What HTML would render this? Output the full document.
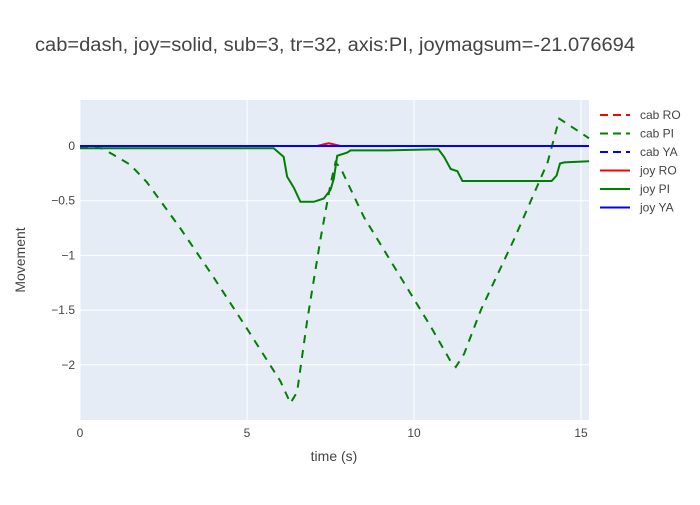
<!DOCTYPE html>
<html><head><meta charset="utf-8"><style>
body{margin:0;background:#fff;font-family:"Liberation Sans",sans-serif}
</style></head><body>
<svg id="c" width="700" height="500" xmlns="http://www.w3.org/2000/svg">
<rect x="0" y="0" width="700" height="500" fill="#fff"/>
<text x="35" y="51" font-size="19" fill="#444" textLength="600" lengthAdjust="spacingAndGlyphs">cab=dash, joy=solid, sub=3, tr=32, axis:PI, joymagsum=-21.076694</text>
<rect x="80" y="100" width="509" height="320" fill="#e5ecf6"/>
<g id="grid"></g><g id="series"></g><g id="ticks"></g>
<text x="334" y="461" font-size="14" fill="#444" text-anchor="middle">time (s)</text>
<text x="25" y="260" font-size="14" fill="#444" text-anchor="middle" transform="rotate(-90 25 260)">Movement</text>
<g id="legend"></g>
</svg>
<script>
const xTicks=[0,5,10,15];
const yTicks=[0,-0.5,-1,-1.5,-2];
const yTickLabels=["0","−0.5","−1","−1.5","−2"];
const cabPI_t=[0,0.65,1.0,1.5,2,3,4,5,6,6.3,6.5,6.8,7.2,7.5,7.65,7.8,8.5,9.5,10.5,11.1,11.25,11.5,12,13,14,14.35,14.6,15.24];
const cabPI_v=[-0.01,-0.02,-0.08,-0.17,-0.33,-0.75,-1.2,-1.67,-2.15,-2.35,-2.25,-1.6,-0.85,-0.35,-0.15,-0.2,-0.65,-1.15,-1.65,-1.97,-2.02,-1.9,-1.5,-0.85,-0.15,0.25,0.2,0.07];
const joyPI_t=[0,5.8,6.1,6.2,6.4,6.6,7.0,7.3,7.5,7.6,7.7,8.0,8.1,9.2,10.73,10.9,11.1,11.3,11.45,14.12,14.27,14.37,14.5,15.24];
const joyPI_v=[-0.02,-0.02,-0.1,-0.28,-0.38,-0.51,-0.51,-0.48,-0.4,-0.3,-0.09,-0.06,-0.04,-0.04,-0.03,-0.1,-0.21,-0.23,-0.32,-0.32,-0.27,-0.16,-0.15,-0.14];
const joyRO_t=[0,7.1,7.3,7.45,7.6,7.8,15.24];
const joyRO_v=[0,0,0.015,0.025,0.015,0,0];
const flat_t=[0,15.24];
const flat_v=[0,0];
const X=t=>80+t*33.4;
const Y=v=>146-v*109.4;
const NS="http://www.w3.org/2000/svg";
function mk(tag,attrs,parent){const e=document.createElementNS(NS,tag);for(const k in attrs)e.setAttribute(k,attrs[k]);parent.appendChild(e);return e;}
const grid=document.getElementById('grid'),ticks=document.getElementById('ticks'),series=document.getElementById('series'),legend=document.getElementById('legend');
xTicks.forEach(t=>{
 const l=mk('line',{x1:X(t),x2:X(t),y1:100,y2:420,stroke:'#fff','stroke-width':1},grid);
 
 
 const tx=mk('text',{x:X(t),y:437,'font-size':12,fill:'#444','text-anchor':'middle'},ticks);
 tx.textContent=t;
 
 
});
yTicks.forEach((v,i)=>{
 const l=mk('line',{x1:80,x2:589,y1:Y(v),y2:Y(v),stroke:'#fff','stroke-width':v===0?2:1},grid);
 
 
 const tx=mk('text',{x:75,y:Y(v)+4,'font-size':12,fill:'#444','text-anchor':'end'},ticks);
 tx.textContent=yTickLabels[i];
 
 
});
function line(ts,vs,color,dash,name){
 const d=ts.map((t,i)=>(i?'L':'M')+X(t).toFixed(1)+','+Y(vs[i]).toFixed(1)).join('');
 const p=mk('path',{d:d,fill:'none',stroke:color,'stroke-width':2,'stroke-dasharray':dash?'8,7':'none'},series);
 
 
}
line(flat_t,flat_v,'#ff0000',true,'cab-ro-line');
line(cabPI_t,cabPI_v,'#008000',true,'cab-pi-line');
line(flat_t,flat_v,'#0000ff',true,'cab-ya-line');
line(joyRO_t,joyRO_v,'#ff0000',false,'joy-ro-line');
line(joyPI_t,joyPI_v,'#008000',false,'joy-pi-line');
line(flat_t,flat_v,'#0000ff',false,'joy-ya-line');
const leg=[['cab RO','#ff0000',true],['cab PI','#008000',true],['cab YA','#0000ff',true],['joy RO','#ff0000',false],['joy PI','#008000',false],['joy YA','#0000ff',false]];
leg.forEach((e,i)=>{
 const y=115+i*18.5;
 const g=mk('g',{},legend);
 
 
 mk('line',{x1:600,x2:630,y1:y,y2:y,stroke:e[1],'stroke-width':2,'stroke-dasharray':e[2]?'8,5':'none'},g);
 const t=mk('text',{x:640,y:y+4,'font-size':12,fill:'#444'},g);
 t.textContent=e[0];
});
</script>
</body></html>
